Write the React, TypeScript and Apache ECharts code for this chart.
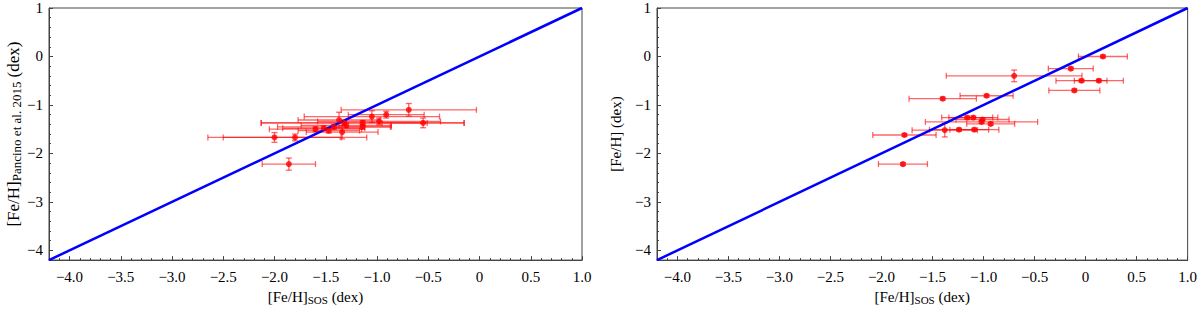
import React, { useEffect, useRef } from "react";
import * as echarts from "echarts";

// ---- Left panel: [Fe/H] Pancino et al. 2015 vs [Fe/H] SOS ----
const leftX = [-0.69, -0.91, -1.05, -0.98, -1.14, -1.14, -0.55, -2.0, -1.8, -1.86, -1.34, -1.6, -1.52, -1.47, -1.37, -1.32, -1.42, -1.3];
const leftY = [-1.1, -1.2, -1.24, -1.34, -1.37, -1.45, -1.37, -1.67, -1.67, -2.22, -1.56, -1.5, -1.48, -1.53, -1.31, -1.37, -1.45, -1.42];
const leftXErr = [0.66, 0.37, 0.66, 0.6, 0.99, 0.28, 0.4, 0.65, 0.7, 0.26, 0.35, 0.45, 0.4, 0.3, 0.4, 0.81, 0.55, 0.44];
const leftYErr = [0.13, 0.07, 0.12, 0.07, 0.05, 0.05, 0.1, 0.1, 0.07, 0.125, 0.14, 0.05, 0.05, 0.05, 0.16, 0.05, 0.05, 0.05];

// ---- Right panel: [Fe/H] vs [Fe/H] SOS ----
const rightX = [0.17, -0.145, -0.7, -0.04, 0.13, -0.11, -0.97, -1.4, -1.16, -1.1, -1.01, -1.02, -0.93, -1.38, -1.24, -1.09, -1.775, -1.79];
const rightY = [0.0, -0.25, -0.4, -0.5, -0.5, -0.7, -0.81, -0.87, -1.26, -1.26, -1.3, -1.35, -1.39, -1.52, -1.51, -1.51, -1.62, -2.22];
const rightXErr = [0.24, 0.22, 0.665, 0.25, 0.24, 0.25, 0.26, 0.33, 0.25, 0.24, 0.26, 0.55, 0.235, 0.32, 0.29, 0.24, 0.31, 0.24];
const rightYErr = [0.03, 0.03, 0.12, 0.03, 0.03, 0.03, 0.03, 0.03, 0.03, 0.03, 0.03, 0.03, 0.03, 0.14, 0.03, 0.03, 0.03, 0.03];

// ---- One-to-one line ----
const oneToOne = [[-4.2, -4.2], [1.0, 1.0]];

// ---- Axis ticks ----
const xTickValues = [-4.0, -3.5, -3.0, -2.5, -2.0, -1.5, -1.0, -0.5, 0, 0.5, 1.0];
const xTickLabels = ["−4.0", "−3.5", "−3.0", "−2.5", "−2.0", "−1.5", "−1.0", "−0.5", "0", "0.5", "1.0"];
const yTickValues = [-4, -3, -2, -1, 0, 1];
const yTickLabels = ["−4", "−3", "−2", "−1", "0", "1"];

const AXIS_MIN = -4.2;
const AXIS_MAX = 1.0;
const FONT = "'Liberation Serif', 'DejaVu Serif', serif";
const AXIS_COLOR = "#444";

function minorValues(step: number): number[] {
  const out: number[] = [];
  const n = Math.round((AXIS_MAX - AXIS_MIN) / step);
  for (let i = 0; i <= n; i++) {
    const v = Math.round((AXIS_MIN + i * step) * 1000) / 1000;
    out.push(v);
  }
  return out;
}

function labelFor(values: number[], labels: string[]) {
  return (v: number) => {
    const i = values.findIndex((t) => Math.abs(t - v) < 1e-6);
    return i >= 0 ? labels[i] : "";
  };
}

export default function App() {
  const ref = useRef<HTMLDivElement>(null);

  useEffect(() => {
    document.body.style.margin = "0";
    if (!ref.current) return;
    const chart = echarts.init(ref.current, undefined, { renderer: "svg" });

    const grids = [
      { left: 49, top: 8, width: 533, height: 260 },
      { left: 657, top: 8, width: 532, height: 260 },
    ];

    const xAxes: any[] = [];
    const yAxes: any[] = [];
    const xNameRich = {
      a: { fontFamily: FONT, fontSize: 15, color: "#000" },
      s: { fontFamily: FONT, fontSize: 11, color: "#000", padding: [6, 0, 0, 0] },
    };
    const yNames = [
      "{a|[Fe/H]}{s|Pancino et al. 2015}{a| (dex)}",
      "{a|[Fe/H] (dex)}",
    ];
    const yRich = [
      {
        a: { fontFamily: FONT, fontSize: 17, color: "#000" },
        s: { fontFamily: FONT, fontSize: 13, color: "#000", padding: [7, 0, 0, 0] },
      },
      {
        a: { fontFamily: FONT, fontSize: 15, color: "#000" },
        s: { fontFamily: FONT, fontSize: 11, color: "#000" },
      },
    ];
    const yGaps = [26, 34];

    grids.forEach((_, gi) => {
      // major x
      xAxes.push({
        gridIndex: gi,
        type: "value",
        min: AXIS_MIN,
        max: AXIS_MAX,
        position: "bottom",
        name: "{a|[Fe/H]}{s|SOS}{a| (dex)}",
        nameLocation: "middle",
        nameGap: 20,
        nameTextStyle: { rich: xNameRich },
        axisLine: { show: true, onZero: false, lineStyle: { color: AXIS_COLOR, width: 1 } },
        axisTick: { show: true, inside: true, length: 4, customValues: xTickValues, lineStyle: { color: AXIS_COLOR } },
        axisLabel: {
          show: true,
          customValues: xTickValues,
          formatter: labelFor(xTickValues, xTickLabels),
          fontFamily: FONT,
          fontSize: 15,
          color: "#000",
          margin: 9,
        },
        splitLine: { show: false },
      });
      // minor x
      xAxes.push({
        gridIndex: gi,
        type: "value",
        min: AXIS_MIN,
        max: AXIS_MAX,
        position: "bottom",
        axisLine: { show: false, onZero: false },
        axisTick: { show: true, inside: true, length: 2, customValues: minorValues(0.1), lineStyle: { color: AXIS_COLOR } },
        axisLabel: { show: false },
        splitLine: { show: false },
      });
      // major y
      yAxes.push({
        gridIndex: gi,
        type: "value",
        min: AXIS_MIN,
        max: AXIS_MAX,
        position: "left",
        name: yNames[gi],
        nameLocation: "middle",
        nameGap: yGaps[gi],
        nameRotate: 90,
        nameTextStyle: { rich: yRich[gi] },
        axisLine: { show: true, onZero: false, lineStyle: { color: AXIS_COLOR, width: 1 } },
        axisTick: { show: true, inside: true, length: 4, customValues: yTickValues, lineStyle: { color: AXIS_COLOR } },
        axisLabel: {
          show: true,
          customValues: yTickValues,
          formatter: labelFor(yTickValues, yTickLabels),
          fontFamily: FONT,
          fontSize: 15,
          color: "#000",
          margin: 6,
        },
        splitLine: { show: false },
      });
      // minor y
      yAxes.push({
        gridIndex: gi,
        type: "value",
        min: AXIS_MIN,
        max: AXIS_MAX,
        position: "left",
        axisLine: { show: false, onZero: false },
        axisTick: { show: true, inside: true, length: 2, customValues: minorValues(0.2), lineStyle: { color: AXIS_COLOR } },
        axisLabel: { show: false },
        splitLine: { show: false },
      });
    });

    const panels = [
      { xs: leftX, ys: leftY, xe: leftXErr, ye: leftYErr },
      { xs: rightX, ys: rightY, xe: rightXErr, ye: rightYErr },
    ];

    const series: any[] = [];
    panels.forEach((p, gi) => {
      const errData = p.xs.map((x, i) => [x, p.ys[i], p.xe[i], p.ye[i]]);
      series.push({
        type: "custom",
        xAxisIndex: gi * 2,
        yAxisIndex: gi * 2,
        z: 2,
        data: errData,
        renderItem: (params: any, api: any) => {
          const x = api.value(0);
          const y = api.value(1);
          const xe = api.value(2);
          const ye = api.value(3);
          const c = api.coord([x, y]);
          const l = api.coord([x - xe, y]);
          const r = api.coord([x + xe, y]);
          const t = api.coord([x, y + ye]);
          const b = api.coord([x, y - ye]);
          const cap = 3;
          const style = { stroke: "rgba(255,0,0,0.6)", lineWidth: 1.3 };
          return {
            type: "group",
            children: [
              { type: "line", shape: { x1: l[0], y1: c[1], x2: r[0], y2: c[1] }, style },
              { type: "line", shape: { x1: l[0], y1: c[1] - cap, x2: l[0], y2: c[1] + cap }, style },
              { type: "line", shape: { x1: r[0], y1: c[1] - cap, x2: r[0], y2: c[1] + cap }, style },
              { type: "line", shape: { x1: c[0], y1: t[1], x2: c[0], y2: b[1] }, style },
              { type: "line", shape: { x1: c[0] - cap, y1: t[1], x2: c[0] + cap, y2: t[1] }, style },
              { type: "line", shape: { x1: c[0] - cap, y1: b[1], x2: c[0] + cap, y2: b[1] }, style },
            ],
          };
        },
      });
      series.push({
        type: "line",
        xAxisIndex: gi * 2,
        yAxisIndex: gi * 2,
        z: 3,
        data: oneToOne,
        symbol: "none",
        lineStyle: { color: "#0000ff", width: 2.5 },
      });
      series.push({
        type: "scatter",
        xAxisIndex: gi * 2,
        yAxisIndex: gi * 2,
        z: 4,
        data: p.xs.map((x, i) => [x, p.ys[i]]),
        symbol: "circle",
        symbolSize: 6,
        itemStyle: { color: "#ff0000" },
      });
    });

    chart.setOption({
      animation: false,
      backgroundColor: "#fff",
      grid: grids.map((g) => ({ ...g, show: true, borderColor: AXIS_COLOR, borderWidth: 1, backgroundColor: "transparent", containLabel: false })),
      xAxis: xAxes,
      yAxis: yAxes,
      series,
    });

    return () => chart.dispose();
  }, []);

  return <div ref={ref} style={{ width: 1200, height: 310 }} />;
}
